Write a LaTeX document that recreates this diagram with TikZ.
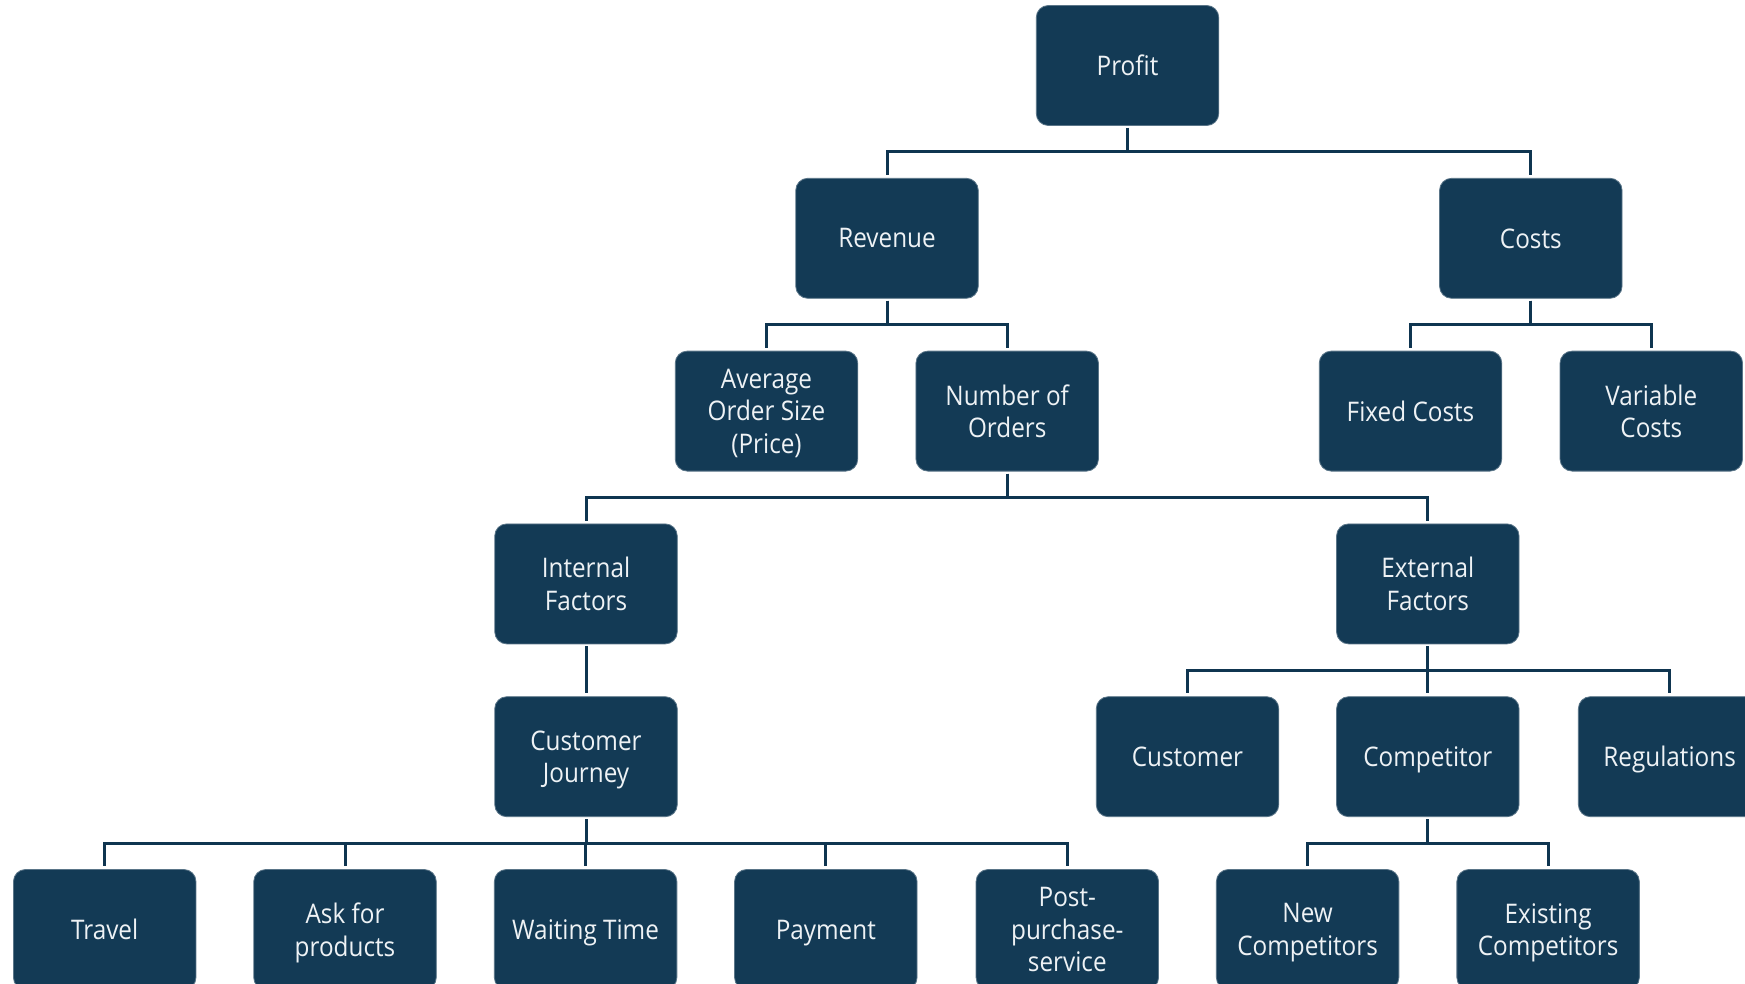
\documentclass[tikz,border=0pt]{standalone}
\usepackage{fontspec}
\setmainfont{Open Sans}[FakeStretch=0.9]
\usetikzlibrary{calc}
\definecolor{boxfill}{HTML}{133A55}
\definecolor{boxtext}{HTML}{EEF2F5}
\definecolor{linecol}{HTML}{0F3550}
\tikzset{
  box/.style={fill=boxfill, draw=boxfill!70!white, line width=0.4pt, rounded corners=6pt,
    minimum width=91.25pt, minimum height=60pt, inner sep=0pt, align=center,
    text depth=0pt,
    text=boxtext, font=\fontsize{13.5}{16.2}\selectfont},
  conn/.style={draw=linecol, line width=1.5pt}
}
\newcommand\myconn[2]{%
  \coordinate (tmpm) at ($(#1.south)!0.5!(#2.north)$);
  \draw[conn] ([yshift=-1pt]#1.south) -- (#1.south |- tmpm) -| ([yshift=1.5pt]#2.north);}
\begin{document}
\begin{tikzpicture}[x=0.5pt,y=-0.5pt]
\useasboundingbox (0,0) rectangle (1745,984);
% row 0
\node[box] (profit) at (1127.5,65.5) {Profit};
% row 1
\node[box] (revenue) at (887,238.3) {Revenue};
\node[box] (costs) at (1530.8,238.3) {Costs};
% row 2
\node[box] (avg) at (766.5,411.1) {Average\\Order Size\\(Price)};
\node[box] (num) at (1007.2,411.1) {Number of\\Orders};
\node[box] (fixed) at (1410.5,411.1) {Fixed Costs};
\node[box] (variable) at (1651.3,411.1) {Variable\\Costs};
% row 3
\node[box] (internal) at (586,583.9) {Internal\\Factors};
\node[box] (external) at (1427.8,583.9) {External\\Factors};
% row 4
\node[box] (journey) at (586,756.7) {Customer\\Journey};
\node[box] (customer) at (1187.5,756.7) {Customer};
\node[box] (competitor) at (1427.8,756.7) {Competitor};
\node[box] (regulations) at (1669.6,756.7) {Regulations};
% row 5
\node[box] (travel) at (104.7,929.5) {Travel};
\node[box] (ask) at (345,929.5) {Ask for\\products};
\node[box] (waiting) at (585.6,929.5) {Waiting Time};
\node[box] (payment) at (825.8,929.5) {Payment};
\node[box] (post) at (1067.3,929.5) {Post-\\purchase-\\service};
\node[box] (new) at (1307.6,929.5) {New\\Competitors};
\node[box] (existing) at (1548.1,929.5) {Existing\\Competitors};
% connectors
\myconn{profit}{revenue}
\myconn{profit}{costs}
\myconn{revenue}{avg}
\myconn{revenue}{num}
\myconn{costs}{fixed}
\myconn{costs}{variable}
\myconn{num}{internal}
\myconn{num}{external}
\myconn{internal}{journey}
\myconn{external}{customer}
\myconn{external}{competitor}
\myconn{external}{regulations}
\myconn{journey}{travel}
\myconn{journey}{ask}
\myconn{journey}{waiting}
\myconn{journey}{payment}
\myconn{journey}{post}
\myconn{competitor}{new}
\myconn{competitor}{existing}
\end{tikzpicture}
\end{document}
